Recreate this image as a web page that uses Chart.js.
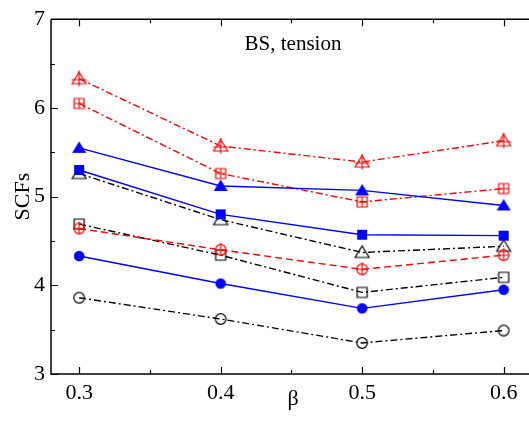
<!DOCTYPE html>
<html>
<head>
<meta charset="utf-8">
<script src="https://cdn.jsdelivr.net/npm/chart.js@4/dist/chart.umd.min.js"></script>
<style>
html, body { margin: 0; padding: 0; background: #fff; overflow: hidden; }
#wrap { width: 529px; height: 434px; }
</style>
</head>
<body>
<div id="wrap"><canvas id="scf" width="529" height="434"></canvas></div>
<script>
var beta=[0.3, 0.4, 0.5, 0.6];
var redTri=[6.33, 5.57, 5.39, 5.63];
var redSq=[6.05, 5.26, 4.94, 5.09];
var redCir=[4.64, 4.40, 4.18, 4.34];
var blueTri=[5.55, 5.12, 5.07, 4.90];
var blueSq=[5.30, 4.80, 4.57, 4.56];
var blueCir=[4.33, 4.02, 3.74, 3.95];
var blackTri=[5.26, 4.74, 4.37, 4.44];
var blackSq=[4.69, 4.34, 3.92, 4.09];
var blackCir=[3.86, 3.62, 3.35, 3.49];
var xMajor=[0.3, 0.4, 0.5, 0.6];
var xMinor=[0.35, 0.45, 0.55];
var yMajor=[3, 4, 5, 6, 7];
var yMinor=[3.5, 4.5, 5.5, 6.5];

var FONT="'Liberation Serif', 'Times New Roman', serif";

// small canvas markers (Chart.js has no crossed triangle / square / circle)
function marker(shape, color, filled, cross){
  var s=20, c=document.createElement("canvas");
  c.width=s; c.height=s;
  var g=c.getContext("2d");
  var m=s/2;
  g.strokeStyle=color;
  g.fillStyle=color;
  g.lineWidth=1.2;
  g.beginPath();
  if(shape=="tri"){
    g.moveTo(m, m-6.5);
    g.lineTo(m+7, m+5);
    g.lineTo(m-7, m+5);
    g.closePath();
  }
  else if(shape=="sq"){
    g.rect(m-5, m-5, 10, 10);
  }
  else{
    g.arc(m, m, 5.3, 0, Math.PI*2);
  }
  if(filled){
    g.fill();
  }
  else{
    g.stroke();
  }
  if(cross){
    g.beginPath();
    if(shape=="tri"){
      g.moveTo(m, m-8);
      g.lineTo(m, m+7.5);
      g.moveTo(m-7.5, m+1);
      g.lineTo(m+7.5, m+1);
    }
    else if(shape=="sq"){
      g.moveTo(m, m-5);
      g.lineTo(m, m+5);
      g.moveTo(m-5, m);
      g.lineTo(m+5, m);
    }
    else{
      g.moveTo(m, m-7);
      g.lineTo(m, m+5.3);
      g.moveTo(m-5.3, m);
      g.lineTo(m+5.3, m);
    }
    g.stroke();
  }
  return c;
}

function pts(vals){
  return vals.map(function(v, i){ return {x: beta[i], y: v}; });
}

var DASHDOT=[7, 3, 2, 3];
var DASHED=[7, 4];

function series(vals, color, dash, mk){
  return {
    data: pts(vals),
    borderColor: color,
    backgroundColor: color,
    borderWidth: 1.4,
    borderDash: dash,
    pointStyle: mk,
    pointRadius: 6,
    pointHoverRadius: 6,
    tension: 0,
    fill: false
  };
}

var datasets=[
  series(blueSq, "#0000ff", [], marker("sq", "#0000ff", true, false)),
  series(blueTri, "#0000ff", [], marker("tri", "#0000ff", true, false)),
  series(blueCir, "#0000ff", [], marker("cir", "#0000ff", true, false)),
  series(redTri, "#ff0000", DASHDOT, marker("tri", "#ff0000", false, true)),
  series(redSq, "#ff0000", DASHDOT, marker("sq", "#ff0000", false, true)),
  series(redCir, "#ff0000", DASHED, marker("cir", "#ff0000", false, true)),
  series(blackTri, "#000000", DASHDOT, marker("tri", "#000000", false, false)),
  series(blackSq, "#000000", DASHDOT, marker("sq", "#000000", false, false)),
  series(blackCir, "#000000", DASHDOT, marker("cir", "#000000", false, false))
];

// frame, inward ticks, the label inside the plot and the beta axis name
var framePlugin={
  id: "frame",
  afterDraw: function(chart){
    var g=chart.ctx, a=chart.chartArea;
    var xs=chart.scales.x, ys=chart.scales.y;
    var edge=chart.width;
    g.save();
    g.strokeStyle="#000";
    g.lineWidth=1.5;
    g.beginPath();
    g.moveTo(a.left, a.top);
    g.lineTo(a.left, a.bottom);
    g.lineTo(edge, a.bottom);
    g.moveTo(a.left, a.top);
    g.lineTo(edge, a.top);
    g.stroke();
    g.lineWidth=1.2;
    g.beginPath();
    xMajor.concat(xMinor).forEach(function(v){
      var len=xMajor.indexOf(v)>=0 ? 7 : 4;
      var px=Math.round(xs.getPixelForValue(v))+0.5;
      g.moveTo(px, a.bottom);
      g.lineTo(px, a.bottom-len);
      g.moveTo(px, a.top);
      g.lineTo(px, a.top+len);
    });
    yMajor.concat(yMinor).forEach(function(v){
      var len=yMajor.indexOf(v)>=0 ? 7 : 4;
      var py=Math.round(ys.getPixelForValue(v))+0.5;
      g.moveTo(a.left, py);
      g.lineTo(a.left+len, py);
    });
    g.stroke();
    g.fillStyle="#000";
    g.font="21px "+FONT;
    g.textAlign="center";
    g.textBaseline="alphabetic";
    g.fillText("BS, tension", 293, a.top+31);
    g.font="22px "+FONT;
    g.fillText("β", 293, a.bottom+31);
    g.restore();
  }
};

new Chart(document.getElementById("scf"), {
  type: "line",
  data: {datasets: datasets},
  plugins: [framePlugin],
  options: {
    responsive: false,
    animation: false,
    layout: {padding: {top: 18, right: 0, left: 0, bottom: 0}},
    plugins: {legend: {display: false}, tooltip: {enabled: false}},
    scales: {
      x: {
        type: "linear",
        min: 0.2801,
        max: 0.6127,
        afterBuildTicks: function(scale){
          scale.ticks=xMajor.map(function(v){ return {value: v}; });
        },
        afterFit: function(scale){
          scale.height=60;
        },
        grid: {display: false, drawTicks: false},
        border: {display: false},
        ticks: {
          color: "#000",
          padding: 6,
          maxRotation: 0,
          font: {family: FONT, size: 22},
          callback: function(v){ return v.toFixed(1); }
        }
      },
      y: {
        type: "linear",
        min: 3,
        max: 7,
        afterBuildTicks: function(scale){
          scale.ticks=yMajor.map(function(v){ return {value: v}; });
        },
        afterFit: function(scale){
          scale.width=51;
        },
        grid: {display: false, drawTicks: false},
        border: {display: false},
        ticks: {
          color: "#000",
          padding: 6,
          font: {family: FONT, size: 22}
        },
        title: {display: true, text: "SCFs", color: "#000", font: {family: FONT, size: 22}, padding: {top: 10, bottom: 0}}
      }
    }
  }
});
</script>
</body>
</html>
